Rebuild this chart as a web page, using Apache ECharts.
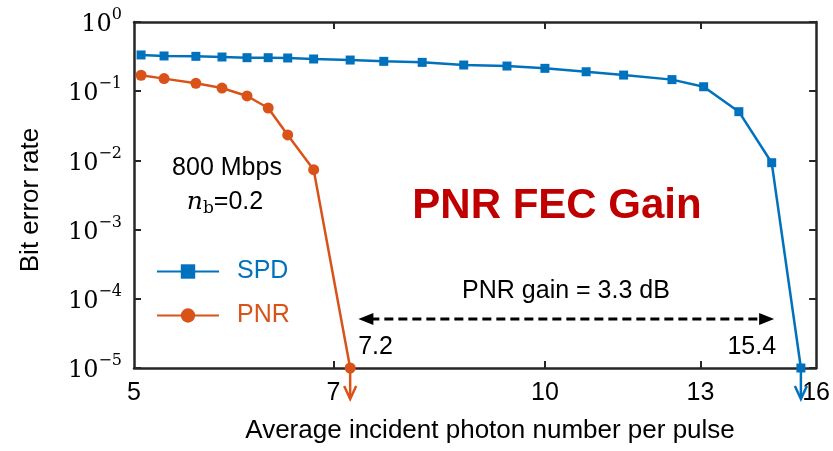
<!DOCTYPE html>
<html><head><meta charset="utf-8">
<script src="https://cdn.jsdelivr.net/npm/echarts@6/dist/echarts.min.js"></script>
<style>html,body{margin:0;padding:0;background:#fff}#c{width:833px;height:451px}</style>
</head><body><div id="c"></div>
<script>
// ---- data ----
const photonSPD = [5.06,5.26,5.55,5.80,6.05,6.27,6.48,6.77,7.2,7.62,8.13,8.72,9.38,10,10.72,11.42,12.39,13.07,13.87,14.66,15.4];
const berSPD    = [0.334,0.323,0.319,0.312,0.305,0.305,0.302,0.292,0.282,0.270,0.261,0.239,0.231,0.214,0.191,0.171,0.147,0.116,0.0506,0.00926,1e-5];
const photonPNR = [5.06,5.26,5.55,5.80,6.05,6.27,6.48,6.77,7.2];
const berPNR    = [0.170,0.152,0.130,0.111,0.0853,0.0572,0.0233,0.00734,1e-5];
const xTickValues  = [7,10,13];
const xLabelValues = [5,7,10,13,15.8];
const yTickValues  = [1e-5,1e-4,1e-3,1e-2,1e-1,1];
const xMin = 5, xMax = 15.8, yMin = 1e-5, yMax = 1;
const gainStart = 7.2, gainEnd = 15.4;
const arrowStart = 7.3, arrowEnd = 14.72, arrowLevel = 5.1e-5;

const BLUE = '#0072BD', ORANGE = '#D95319', AX = '#262626';
const SANS = 'Liberation Sans, Arial, sans-serif';
const SERIF = 'DejaVu Serif, serif';

const chart = echarts.init(document.getElementById('c'));
const zip = (a, b) => a.map((v, i) => [v, b[i]]);

function supLabel(v) {
  const e = Math.round(Math.log10(v));
  const s = e < 0 ? '\u2212' + (-e) : String(e);
  return '{b|10}{s|' + s + '}';
}
const yLabelRich = {
  b: {fontFamily: SERIF, fontSize: 24, color: '#000', lineHeight: 30, verticalAlign: 'bottom'},
  s: {fontFamily: SERIF, fontSize: 16, color: '#000', lineHeight: 16, verticalAlign: 'top'}
};

const option = {
  backgroundColor: '#fff',
  animation: false,
  grid: {left: 134, right: 10, top: 22, bottom: 83, containLabel: false},
  legend: {
    orient: 'vertical', left: 151, top: 254, itemWidth: 62, itemHeight: 18, itemGap: 19,
    textStyle: {fontFamily: SANS, fontSize: 25, padding: [0, 0, 0, 13]},
    data: [
      {name: 'SPD', textStyle: {color: BLUE}},
      {name: 'PNR', textStyle: {color: ORANGE}}
    ]
  },
  xAxis: [{
    type: 'log', min: xMin, max: xMax,
    name: 'Average incident photon number per pulse', nameLocation: 'middle', nameGap: 50,
    nameTextStyle: {fontFamily: SANS, fontSize: 26, color: '#000', padding: [0, 0, 0, 30]},
    axisLine: {show: true, lineStyle: {color: AX, width: 2.5}},
    axisTick: {show: true, inside: true, length: 7, lineStyle: {color: AX, width: 2}, customValues: xTickValues},
    axisLabel: {show: true, customValues: xLabelValues, margin: 13, fontFamily: SANS, fontSize: 25, color: '#000',
      formatter: v => String(Math.round(v))},
    splitLine: {show: false}, minorTick: {show: false}
  }, {
    type: 'log', min: xMin, max: xMax, position: 'top',
    axisLine: {show: true, lineStyle: {color: AX, width: 2.5}},
    axisTick: {show: true, inside: true, length: 7, lineStyle: {color: AX, width: 2}, customValues: xTickValues},
    axisLabel: {show: false}, splitLine: {show: false}
  }],
  yAxis: [{
    type: 'log', min: yMin, max: yMax,
    name: 'Bit error rate', nameLocation: 'middle', nameGap: 90, nameRotate: 90,
    nameTextStyle: {fontFamily: SANS, fontSize: 26, color: '#000', padding: [0, 10, 0, 0]},
    axisLine: {show: true, lineStyle: {color: AX, width: 2.5}},
    axisTick: {show: true, inside: true, length: 7, lineStyle: {color: AX, width: 2}, customValues: yTickValues},
    axisLabel: {show: true, customValues: yTickValues, margin: 12, formatter: supLabel, rich: yLabelRich},
    splitLine: {show: false}, minorTick: {show: false}
  }, {
    type: 'log', min: yMin, max: yMax, position: 'right',
    axisLine: {show: true, lineStyle: {color: AX, width: 2.5}},
    axisTick: {show: true, inside: true, length: 7, lineStyle: {color: AX, width: 2}, customValues: yTickValues},
    axisLabel: {show: false}, splitLine: {show: false}
  }],
  series: [{
    name: 'SPD', type: 'line', data: zip(photonSPD, berSPD), clip: false,
    symbol: 'rect', symbolSize: 9, itemStyle: {color: BLUE}, lineStyle: {color: BLUE, width: 2.5}, z: 3
  }, {
    name: 'PNR', type: 'line', data: zip(photonPNR, berPNR), clip: false,
    symbol: 'circle', symbolSize: 11, itemStyle: {color: ORANGE}, lineStyle: {color: ORANGE, width: 2.5}, z: 4
  }],
  graphic: []
};
chart.setOption(option);

// annotations positioned through the chart's own coordinate conversion
const P = v => chart.convertToPixel({gridIndex: 0}, v);
const pA = P([arrowStart, arrowLevel]), pB = P([arrowEnd, arrowLevel]);
const pPNR = P([gainStart, yMin]), pSPD = P([gainEnd, yMin]);
const g = [];
function vArrow(p, color) {
  g.push({type: 'line', shape: {x1: p[0], y1: p[1], x2: p[0], y2: p[1] + 30}, style: {stroke: color, lineWidth: 2.5}, z: 10});
  g.push({type: 'polyline', shape: {points: [[p[0] - 6, p[1] + 18], [p[0], p[1] + 31], [p[0] + 6, p[1] + 18]]}, style: {stroke: color, lineWidth: 2.5, fill: null}, z: 10});
}
vArrow(pPNR, ORANGE);
vArrow(pSPD, BLUE);
// dashed double arrow
g.push({type: 'line', shape: {x1: pA[0] + 12, y1: pA[1], x2: pB[0] - 12, y2: pB[1]}, style: {stroke: '#000', lineWidth: 3, lineDash: [9, 5]}, z: 10});
g.push({type: 'polygon', shape: {points: [[pA[0], pA[1]], [pA[0] + 15, pA[1] - 6], [pA[0] + 15, pA[1] + 6]]}, style: {fill: '#000'}, z: 10});
g.push({type: 'polygon', shape: {points: [[pB[0], pB[1]], [pB[0] - 15, pB[1] - 6], [pB[0] - 15, pB[1] + 6]]}, style: {fill: '#000'}, z: 10});
// texts
g.push({type: 'text', x: pPNR[0] + 8, y: 347, style: {text: String(gainStart), font: '25px ' + SANS, fill: '#000', textAlign: 'left', textVerticalAlign: 'middle'}, z: 10});
g.push({type: 'text', x: pB[0] + 2, y: 347, style: {text: String(gainEnd), font: '25px ' + SANS, fill: '#000', textAlign: 'right', textVerticalAlign: 'middle'}, z: 10});
g.push({type: 'text', x: 566, y: 291, style: {text: 'PNR gain = 3.3 dB', font: '25px ' + SANS, fill: '#000', textAlign: 'center', textVerticalAlign: 'middle'}, z: 10});
g.push({type: 'text', x: 557, y: 206, style: {text: 'PNR FEC Gain', font: 'bold 42px ' + SANS, fill: '#C00000', textAlign: 'center', textVerticalAlign: 'middle'}, z: 10});
g.push({type: 'text', x: 227, y: 168, style: {text: '800 Mbps', font: '25px ' + SANS, fill: '#000', textAlign: 'center', textVerticalAlign: 'middle'}, z: 10});
g.push({type: 'text', x: 225, y: 202, style: {
  text: '{n|n}{b|b}{t|=0.2}', textAlign: 'center', textVerticalAlign: 'middle',
  rich: {
    n: {fontFamily: SERIF, fontStyle: 'italic', fontSize: 25, fill: '#000', lineHeight: 30},
    b: {fontFamily: SERIF, fontSize: 17, fill: '#000', lineHeight: 30, verticalAlign: 'bottom', padding: [8, 0, 0, 0]},
    t: {fontFamily: SANS, fontSize: 25, fill: '#000', lineHeight: 30}
  }}, z: 10});
chart.setOption({graphic: g});
</script>
</body></html>
